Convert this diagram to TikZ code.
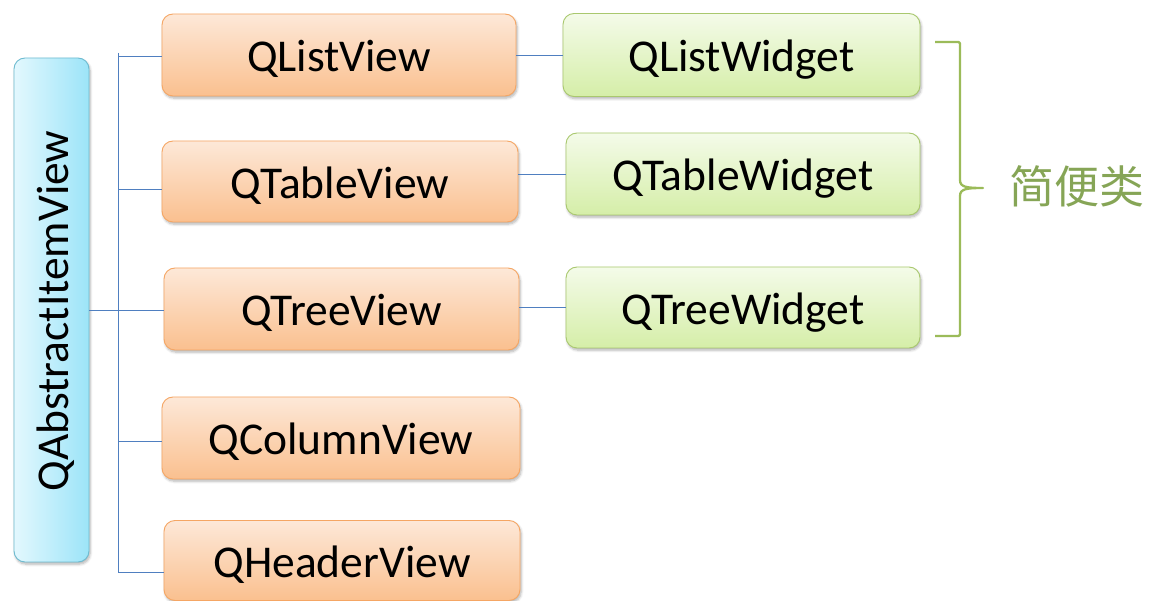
\documentclass[tikz,border=0pt]{standalone}
\usepackage{fontspec}
\setmainfont{Carlito}
\newfontfamily\cjk{Noto Sans CJK SC}
\usetikzlibrary{shadows.blur}
\definecolor{orbd}{HTML}{F5A664}
\definecolor{ortop}{HTML}{FDE8D8}
\definecolor{orbot}{HTML}{FAC08F}
\definecolor{grbd}{HTML}{A9C86E}
\definecolor{grtop}{HTML}{F4FBE9}
\definecolor{grbot}{HTML}{D5EEA8}
\definecolor{blbd}{HTML}{6EBBD0}
\definecolor{blleft}{HTML}{E3F8FE}
\definecolor{blright}{HTML}{9CE4F8}
\definecolor{ln}{HTML}{4F7FC0}
\definecolor{brc}{HTML}{9BBB59}
\definecolor{brtxt}{HTML}{86A556}
\tikzset{
  sh/.style={blur shadow={shadow xshift=1.2pt, shadow yshift=-2.2pt, shadow opacity=30, shadow blur radius=2.5pt, shadow blur steps=6}},
  base/.style={rounded corners=11pt, inner sep=0pt, line width=0.9pt, font=\fontsize{45.5}{50}\selectfont, text=black, text height=34pt, text depth=0pt, sh},
  orbox/.style={base, draw=orbd, top color=ortop, bottom color=orbot},
  grbox/.style={base, draw=grbd, top color=grtop, bottom color=grbot},
  blbox/.style={base, draw=blbd, left color=blleft, right color=blright},
  conn/.style={draw=ln, line width=0.9pt},
}
\begin{document}
\begin{tikzpicture}[x=1pt,y=-1pt]
\useasboundingbox (0,0) rectangle (1149,601);
\node[blbox, minimum width=75pt, minimum height=504pt] (root) at (51.5,310) {};
\node[rotate=90, font=\fontsize{45.5}{50}\selectfont, text height=34pt, text depth=0pt, inner sep=0pt] (roottxt) at (51.5,311) {QAbstractItemView};

\node[orbox, minimum width=354pt, minimum height=82pt] (lv) at (339,55) {QListView};
\node[orbox, minimum width=356pt, minimum height=81pt] (tv) at (340,181.5) {QTableView};
\node[orbox, minimum width=355pt, minimum height=82pt] (trv) at (341.5,309) {QTreeView};
\node[orbox, minimum width=358pt, minimum height=82pt] (cv) at (341,438) {QColumnView};
\node[orbox, minimum width=356pt, minimum height=80pt] (hv) at (342,560.5) {QHeaderView};

\node[grbox, minimum width=357pt, minimum height=83pt] (lw) at (741.5,55) {QListWidget};
\node[grbox, minimum width=354pt, minimum height=82pt] (tw) at (743,174) {QTableWidget};
\node[grbox, minimum width=354pt, minimum height=81pt] (trw) at (743,307.5) {QTreeWidget};

\coordinate (ttop) at (118,53);
\coordinate (tbot) at (118,572);
\coordinate (b1) at (118,56);
\coordinate (b2) at (118,189);
\coordinate (b3) at (118,310);
\coordinate (b4) at (118,441);
\draw[conn] (ttop) -- (tbot);
\draw[conn] (b1) -- (b1 -| lv.west);
\draw[conn] (b2) -- (b2 -| tv.west);
\draw[conn] (root.east |- b3) -- (b3 -| trv.west);
\draw[conn] (b4) -- (b4 -| cv.west);
\draw[conn] (tbot) -- (tbot -| hv.west);

\draw[conn] (lv.east |- lw.west) -- (lw.west);
\draw[conn] (tv.east |- tw.west) -- (tw.west);
\draw[conn] (trv.east |- trw.west) -- (trw.west);

\coordinate (bt) at (935,42);
\coordinate (bb) at (935,336);
\coordinate (tip) at (983,188);
\draw[brc, line width=2.3pt, line join=round]
  (bt) -- (956,42) .. controls (960,42) and (960,42) .. (960,46) -- (960,180)
  .. controls (960,187) and (966,188) .. (tip)
  .. controls (966,188) and (960,189) .. (960,196) -- (960,332)
  .. controls (960,336) and (960,336) .. (956,336) -- (bb);
\node[text=brtxt, font=\cjk\fontsize{45}{50}\selectfont, anchor=west] (lbl) at (1006,186) {简便类};
\end{tikzpicture}
\end{document}
